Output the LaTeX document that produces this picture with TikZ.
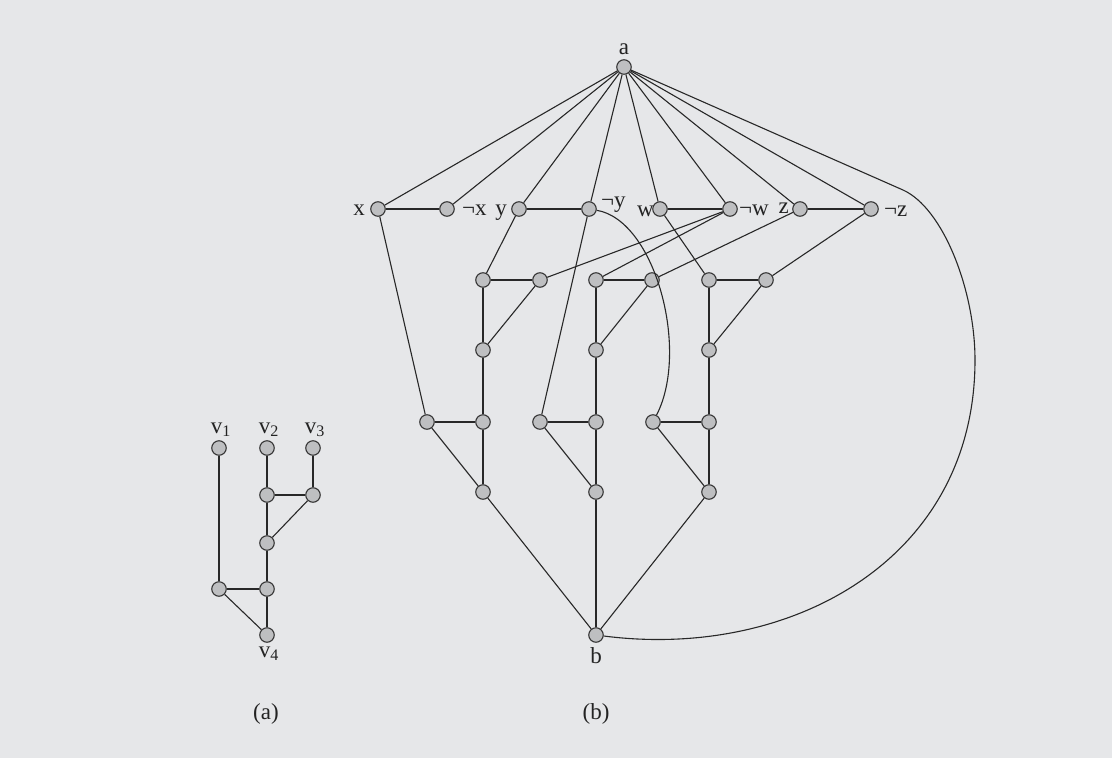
\documentclass[tikz,border=0pt]{standalone}
\usepackage{fontspec}
\setmainfont{Liberation Serif}
\definecolor{bgc}{RGB}{230,231,233}
\definecolor{nodefill}{RGB}{190,191,193}
\definecolor{nodedraw}{RGB}{55,55,55}
\definecolor{linec}{RGB}{40,40,40}
\definecolor{txtc}{RGB}{35,35,35}
\begin{document}
\begin{tikzpicture}[x=1pt,y=-1pt,
  vtx/.style={circle,fill=nodefill,draw=nodedraw,line width=1.1pt,minimum size=14.5pt,inner sep=0pt},
  edge/.style={draw=linec,line width=1.1pt},
  lbl/.style={font=\fontsize{23}{25}\selectfont,inner sep=0pt,text=txtc}]
\fill[bgc] (0,0) rectangle (1112,758);
\useasboundingbox (0,0) rectangle (1112,758);
% ---------- (a) ----------
\node[vtx] (v1) at (219,448) {};
\node[vtx] (v2) at (267,448) {};
\node[vtx] (v3) at (313,448) {};
\node[vtx] (p1) at (267,495) {};
\node[vtx] (p2) at (313,495) {};
\node[vtx] (p3) at (267,543) {};
\node[vtx] (p4) at (219,589) {};
\node[vtx] (p5) at (267,589) {};
\node[vtx] (v4) at (267,635) {};
\draw[edge] (v1) -- (p4);
\draw[edge] (v2) -- (p1);
\draw[edge] (v3) -- (p2);
\draw[edge] (p1) -- (p2);
\draw[edge] (p1) -- (p3);
\draw[edge] (p2) -- (p3);
\draw[edge] (p3) -- (p5);
\draw[edge] (p4) -- (p5);
\draw[edge] (p4) -- (v4);
\draw[edge] (p5) -- (v4);
\node[lbl,anchor=base] (lv1) at (221,433) {v\textsubscript{1}};
\node[lbl,anchor=base] (lv2) at (269,433) {v\textsubscript{2}};
\node[lbl,anchor=base] (lv3) at (315,433) {v\textsubscript{3}};
\node[lbl,anchor=base] (lv4) at (269,657) {v\textsubscript{4}};
\node[lbl,anchor=base] (capa) at (266,719) {(a)};
% ---------- (b) ----------
\node[vtx] (a) at (624,67) {};
\node[vtx] (x) at (378,209) {};
\node[vtx] (nx) at (447,209) {};
\node[vtx] (y) at (519,209) {};
\node[vtx] (ny) at (589,209) {};
\node[vtx] (w) at (660,209) {};
\node[vtx] (nw) at (730,209) {};
\node[vtx] (z) at (800,209) {};
\node[vtx] (nz) at (871,209) {};
% gadget 1
\node[vtx] (g1t) at (483,280) {};
\node[vtx] (g1r) at (540,280) {};
\node[vtx] (g1m) at (483,350) {};
\node[vtx] (g1l) at (427,422) {};
\node[vtx] (g1c) at (483,422) {};
\node[vtx] (g1b) at (483,492) {};
% gadget 2
\node[vtx] (g2t) at (596,280) {};
\node[vtx] (g2r) at (652,280) {};
\node[vtx] (g2m) at (596,350) {};
\node[vtx] (g2l) at (540,422) {};
\node[vtx] (g2c) at (596,422) {};
\node[vtx] (g2b) at (596,492) {};
% gadget 3
\node[vtx] (g3t) at (709,280) {};
\node[vtx] (g3r) at (766,280) {};
\node[vtx] (g3m) at (709,350) {};
\node[vtx] (g3l) at (653,422) {};
\node[vtx] (g3c) at (709,422) {};
\node[vtx] (g3b) at (709,492) {};
\node[vtx] (b) at (596,635) {};
\coordinate (c1) at (903,190);
\coordinate (c2) at (975,360);
% edges from a
\foreach \t in {x,nx,y,ny,w,nw,z,nz} \draw[edge] (a) -- (\t);
\draw[edge] (a) -- (c1) .. controls (943,208) and (975,290) .. (c2)
  .. controls (975,560) and (790,660) .. (b);
% literal pairs
\draw[edge] (x) -- (nx);
\draw[edge] (y) -- (ny);
\draw[edge] (w) -- (nw);
\draw[edge] (z) -- (nz);
% literals to gadgets
\draw[edge] (x) -- (g1l);
\draw[edge] (y) -- (g1t);
\draw[edge] (nw) -- (g1r);
\draw[edge] (nw) -- (g2t);
\draw[edge] (z) -- (g2r);
\draw[edge] (ny) -- (g2l);
\draw[edge] (w) -- (g3t);
\draw[edge] (nz) -- (g3r);
\draw[edge] (ny) .. controls (655,220) and (690,350) .. (g3l);
% gadget internals
\foreach \g in {g1,g2,g3}{
  \draw[edge] (\g t) -- (\g r);
  \draw[edge] (\g t) -- (\g m);
  \draw[edge] (\g r) -- (\g m);
  \draw[edge] (\g m) -- (\g c);
  \draw[edge] (\g l) -- (\g c);
  \draw[edge] (\g c) -- (\g b);
  \draw[edge] (\g l) -- (\g b);
  \draw[edge] (\g b) -- (b);
}
% labels
\node[lbl,anchor=base] (la) at (624,54) {a};
\node[lbl,anchor=base] (lb) at (596,663) {b};
\node[lbl,anchor=base east] (lx) at (365,215) {x};
\node[lbl,anchor=base west] (lnx) at (462,215) {¬x};
\node[lbl,anchor=base east] (ly) at (507,215) {y};
\node[lbl,anchor=base west] (lny) at (601,207) {¬y};
\node[lbl,anchor=base east] (lw) at (654,216) {w};
\node[lbl,anchor=base west] (lnw) at (739,215) {¬w};
\node[lbl,anchor=base east] (lz) at (789,213) {z};
\node[lbl,anchor=base west] (lnz) at (884,216) {¬z};
\node[lbl,anchor=base] (capb) at (596,719) {(b)};
\end{tikzpicture}
\end{document}
